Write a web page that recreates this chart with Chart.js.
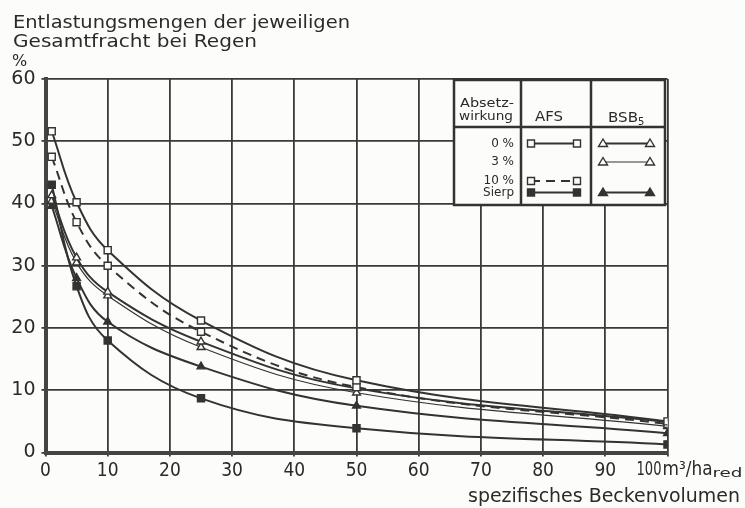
<!DOCTYPE html>
<html lang="de">
<head>
<meta charset="UTF-8">
<title>Entlastungsmengen der jeweiligen Gesamtfracht bei Regen</title>
<script src="https://cdn.jsdelivr.net/npm/chart.js"></script>
<style>
    html, body { margin: 0; padding: 0; background: #fcfcfa; }
    #box { width: 745px; height: 508px; }
</style>
</head>
<body>
<div id="box"><canvas id="kurven" width="745" height="508"></canvas></div>
<script>
// spezifisches Beckenvolumen (m3/ha red)
const volumen = [1, 5, 10, 25, 50, 100];

// Entlastungsmengen in % der Gesamtfracht
const afs0     = [51.6, 40.2, 32.5, 21.2, 11.6, 5.0];
const afs10    = [47.5, 37.0, 30.0, 19.4, 10.5, 4.6];
const afsSierp = [43.0, 26.7, 18.0, 8.7, 3.9, 1.3];
const bsb0     = [41.3, 31.3, 25.8, 17.8, 10.3, 4.9];
const bsb3     = [40.4, 30.5, 25.2, 16.9, 9.6, 4.2];
const bsbSierp = [39.6, 28.0, 21.0, 13.8, 7.5, 3.1];

const xTicks = [0, 10, 20, 30, 40, 50, 60, 70, 80, 90, 100];
const yTicks = [0, 10, 20, 30, 40, 50, 60];
const absetzwirkung = ['0 %', '3 %', '10 %', 'Sierp'];

const INK = '#333';
const PAPER = '#fcfcfa';
const SANS = "'DejaVu Sans', sans-serif";
const NARROW = "'Liberation Sans Narrow', 'DejaVu Sans Condensed', 'Liberation Sans', sans-serif";

function serie(label, werte, gruppe, zeile, opts) {
    return Object.assign({
        label: label,
        gruppe: gruppe,
        zeile: zeile,
        data: volumen.map((v, i) => ({ x: v, y: werte[i] })),
        borderColor: INK,
        borderWidth: 2,
        pointBorderColor: INK,
        pointBorderWidth: 1.4,
        pointBackgroundColor: PAPER,
        tension: 0.4,
        fill: false
    }, opts);
}

const datasets = [
    serie('AFS 0 %', afs0, 'AFS', 0, { pointStyle: 'rect', pointRadius: 5 }),
    serie('AFS 10 %', afs10, 'AFS', 2, { pointStyle: 'rect', pointRadius: 5, borderDash: [9, 6] }),
    serie('AFS Sierp', afsSierp, 'AFS', 3, { pointStyle: 'rect', pointRadius: 5, pointBackgroundColor: INK }),
    serie('BSB5 0 %', bsb0, 'BSB5', 0, { pointStyle: 'triangle', pointRadius: 4.5 }),
    serie('BSB5 3 %', bsb3, 'BSB5', 1, { pointStyle: 'triangle', pointRadius: 4.5, borderWidth: 1.2 }),
    serie('BSB5 Sierp', bsbSierp, 'BSB5', 3, { pointStyle: 'triangle', pointRadius: 4.5, pointBackgroundColor: INK })
];

// Text gestaucht/gedehnt auf eine Breite setzen
function fitText(ctx, text, x, y, width) {
    const w = ctx.measureText(text).width;
    ctx.save();
    ctx.translate(x, y);
    ctx.scale(width / w, 1);
    ctx.fillText(text, 0, 0);
    ctx.restore();
}

function drawMark(ctx, style, x, y, filled) {
    ctx.beginPath();
    if (style === 'rect') {
        ctx.rect(x - 3.5, y - 3.5, 7, 7);
    } else {
        ctx.moveTo(x, y - 4.5);
        ctx.lineTo(x + 4.5, y + 3);
        ctx.lineTo(x - 4.5, y + 3);
        ctx.closePath();
    }
    ctx.fillStyle = filled ? INK : PAPER;
    ctx.fill();
    ctx.lineWidth = 1.4;
    ctx.strokeStyle = INK;
    ctx.stroke();
}

const beschriftung = {
    id: 'beschriftung',
    afterDraw(chart) {
        const ctx = chart.ctx;
        const xs = chart.scales.x;
        ctx.save();
        ctx.fillStyle = '#2a2a2a';
        ctx.textBaseline = 'middle';
        ctx.textAlign = 'left';

        ctx.font = '18px ' + SANS;
        fitText(ctx, 'Entlastungsmengen der jeweiligen', 13, 23, 337);
        fitText(ctx, 'Gesamtfracht bei Regen', 13, 42, 244);
        ctx.font = '16px ' + SANS;
        ctx.fillText('%', 12, 62);

        // letzter Tick mit Einheit
        const x100 = xs.getPixelForValue(100);
        ctx.font = '19px ' + NARROW;
        const tickY = xs.top + 18;
        fitText(ctx, '100', x100 - 31, tickY, 25);
        fitText(ctx, 'm³/ha', x100 - 5, tickY, 50);
        ctx.font = '12px ' + NARROW;
        fitText(ctx, 'red', x100 + 45, tickY + 3, 30);

        ctx.font = '19px ' + SANS;
        fitText(ctx, 'spezifisches Beckenvolumen', 468, 497, 272);

        // Legendentabelle
        const L = 454, T = 80, R = 665, B = 205, H = 127, C1 = 521, C2 = 591;
        ctx.fillStyle = PAPER;
        ctx.fillRect(L, T, R - L, B - T);
        ctx.strokeStyle = INK;
        ctx.lineWidth = 2.5;
        ctx.strokeRect(L, T, R - L, B - T);
        ctx.beginPath();
        ctx.moveTo(L, H); ctx.lineTo(R, H);
        ctx.moveTo(C1, T); ctx.lineTo(C1, B);
        ctx.moveTo(C2, T); ctx.lineTo(C2, B);
        ctx.stroke();

        ctx.fillStyle = '#2a2a2a';
        ctx.font = '12px ' + SANS;
        fitText(ctx, 'Absetz-', 460, 104, 54);
        fitText(ctx, 'wirkung', 459, 117, 54);
        ctx.font = '14px ' + SANS;
        fitText(ctx, 'AFS', 535, 117, 28);
        fitText(ctx, 'BSB', 608, 118, 30);
        ctx.font = '10px ' + SANS;
        ctx.fillText('5', 638, 122);

        const zeilenY = [143.5, 162, 181, 192.5];
        ctx.font = '12px ' + SANS;
        ctx.textAlign = 'right';
        absetzwirkung.forEach((t, i) => ctx.fillText(t, 514, zeilenY[i]));

        chart.data.datasets.forEach(ds => {
            const y = zeilenY[ds.zeile];
            const x0 = ds.gruppe === 'AFS' ? 531 : 603;
            const x1 = ds.gruppe === 'AFS' ? 577 : 650;
            ctx.beginPath();
            ctx.setLineDash(ds.borderDash || []);
            ctx.lineWidth = ds.borderWidth;
            ctx.strokeStyle = INK;
            ctx.moveTo(x0, y); ctx.lineTo(x1, y);
            ctx.stroke();
            ctx.setLineDash([]);
            const filled = ds.pointBackgroundColor === INK;
            drawMark(ctx, ds.pointStyle, x0, y, filled);
            drawMark(ctx, ds.pointStyle, x1, y, filled);
        });
        ctx.restore();
    }
};

new Chart(document.getElementById('kurven'), {
    type: 'line',
    data: { datasets: datasets },
    options: {
        responsive: false,
        animation: false,
        layout: { padding: { top: 79, right: 77.5, left: 0, bottom: 0 } },
        plugins: { legend: { display: false }, tooltip: { enabled: false } },
        scales: {
            x: {
                type: 'linear',
                min: 0,
                max: 100,
                afterBuildTicks: s => { s.ticks = xTicks.map(v => ({ value: v })); },
                afterFit: s => { s.height = 55.5; },
                ticks: {
                    color: '#2a2a2a',
                    font: { family: NARROW, size: 19 },
                    padding: 3,
                    callback: v => v === 100 ? '' : v
                },
                grid: { color: '#3a3a3a', lineWidth: 1.8, tickLength: 4 },
                border: { color: '#444', width: 4 }
            },
            y: {
                min: 0,
                max: 60,
                afterBuildTicks: s => { s.ticks = yTicks.map(v => ({ value: v })); },
                afterFit: s => { s.width = 45.5; },
                ticks: {
                    color: '#2a2a2a',
                    font: { family: SANS, size: 19 },
                    padding: 6
                },
                grid: { color: '#3a3a3a', lineWidth: 1.8, tickLength: 4 },
                border: { color: '#444', width: 4 }
            }
        }
    },
    plugins: [beschriftung]
});
</script>
</body>
</html>
